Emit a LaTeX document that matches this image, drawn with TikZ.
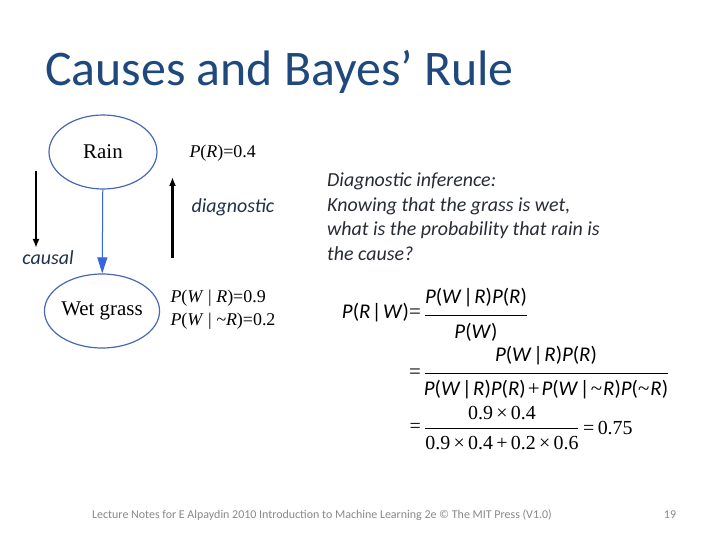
\documentclass[tikz,border=0pt]{standalone}
\usepackage{fontspec}
\setmainfont{Carlito}
\newfontfamily\tms{Liberation Serif}
\usetikzlibrary{shapes.geometric,arrows.meta}
\definecolor{titleblue}{RGB}{31,73,125}
\definecolor{nodeblue}{RGB}{72,104,180}
\definecolor{arrowblue}{RGB}{55,100,225}
\definecolor{labelink}{RGB}{30,50,75}
\definecolor{bodyink}{RGB}{40,44,52}
\definecolor{footgray}{RGB}{137,137,137}
\newcommand{\iv}[1]{\textit{#1}}
\newcommand{\pr}[1]{\iv{P}(#1)}
\newcommand{\given}{\kern1.5bp|\kern1.5bp}
\newcommand{\nt}{{\tms\textasciitilde}\kern1bp}
\tikzset{
  bnode/.style={ellipse, draw=nodeblue, line width=1.2bp, minimum width=108bp, minimum height=74bp, inner sep=0pt, font=\tms\fontsize{21}{24}\selectfont},
  link/.style={draw=arrowblue, line width=1bp, -{Triangle[length=16bp,width=10bp]}},
  dirarrow/.style={line width=2.4bp, -{Latex[length=9bp,width=7bp]}},
  dirlabel/.style={font=\fontsize{20}{24}\selectfont\itshape, text=labelink},
  cpt/.style={font=\tms\fontsize{18}{23}\selectfont, align=left, anchor=west},
  eqtext/.style={font=\fontsize{21}{25}\selectfont, inner sep=0pt},
  numtext/.style={font=\tms\fontsize{20}{24}\selectfont, inner sep=0pt},
  fracbar/.style={line width=0.8bp},
}

\begin{document}
\begin{tikzpicture}[x=1bp,y=-1bp]
\useasboundingbox (0,0) rectangle (720,540);
\fill[white] (0,0) rectangle (720,540);
\node[anchor=base west, inner sep=0pt, font=\fontsize{50}{56}\selectfont, text=titleblue] (title) at (45,86) {Causes and Bayes’ Rule};
% network
\node[bnode] (rain) at (103,152) {Rain};
\node[bnode] (wet) at (102,311) {Wet grass};
\draw[link] (rain) -- (wet);
\node[cpt] (prior) at (186,153) {\iv{P}(\iv{R})=0.4};
\node[cpt] (likeli) at (167,310) {\iv{P}(\iv{W} | \iv{R})=0.9\\\iv{P}(\iv{W} | \iv{\textasciitilde R})=0.2};
% directions
\coordinate (causaltop) at (36,171);
\coordinate (causalend) at (36,248);
\draw[dirarrow] (causaltop) -- (causalend);
\node[dirlabel] (causal) at (48,258) {causal};
\coordinate (diagfoot) at (172.5,258);
\coordinate (diagtip) at (172.5,177);
\draw[dirarrow] (diagfoot) -- (diagtip);
\node[dirlabel, anchor=west] (diag) at (188,207) {diagnostic};
\node[anchor=north west, align=left, inner sep=0pt, font=\fontsize{20}{24.5}\selectfont\itshape, text=bodyink] (question) at (327,173) {Diagnostic inference:\\Knowing that the grass is wet,\\what is the probability that rain is\\the cause?};
% Bayes' rule
\begin{scope}
\clip (330,280) rectangle (700,452);
\node[eqtext, anchor=east] (lhs) at (421,313) {\pr{\iv{R}\given\iv{W}}{\tms =}};
\node[eqtext] (num1) at (476,298) {\pr{\iv{W}\given\iv{R}}\pr{\iv{R}}};
\node[eqtext] (den1) at (476,332) {\pr{\iv{W}}};
\draw[fracbar] (425,315) -- (527,315);
\node[eqtext, anchor=east] (eq2) at (421,374) {\tms =};
\node[eqtext] (num2) at (546,356) {\pr{\iv{W}\given\iv{R}}\pr{\iv{R}}};
\node[eqtext] (den2) at (546,390) {\pr{\iv{W}\given\iv{R}}\pr{\iv{R}}{\tms\kern2bp+\kern2bp}\pr{\iv{W}\given\nt\iv{R}}\pr{\nt\iv{R}}};
\draw[fracbar] (425,373) -- (668,373);
\node[numtext, anchor=east] (eq3) at (421,428) {=};
\node[numtext] (num3) at (502,413) {0.9\,×\,0.4};
\node[numtext] (den3) at (502,443) {0.9\,×\,0.4\,+\,0.2\,×\,0.6};
\draw[fracbar] (425,428) -- (578,428);
\node[numtext, anchor=west] (result) at (583,428) {=\,0.75};
\end{scope}
% footer
\node[font=\fontsize{12}{14}\selectfont, text=footgray] (footer) at (322,515) {Lecture Notes for E Alpaydin 2010 Introduction to Machine Learning 2e © The MIT Press (V1.0)};
\node[font=\fontsize{12}{14}\selectfont, text=footgray] (pageno) at (670,515) {19};
\end{tikzpicture}
\end{document}
